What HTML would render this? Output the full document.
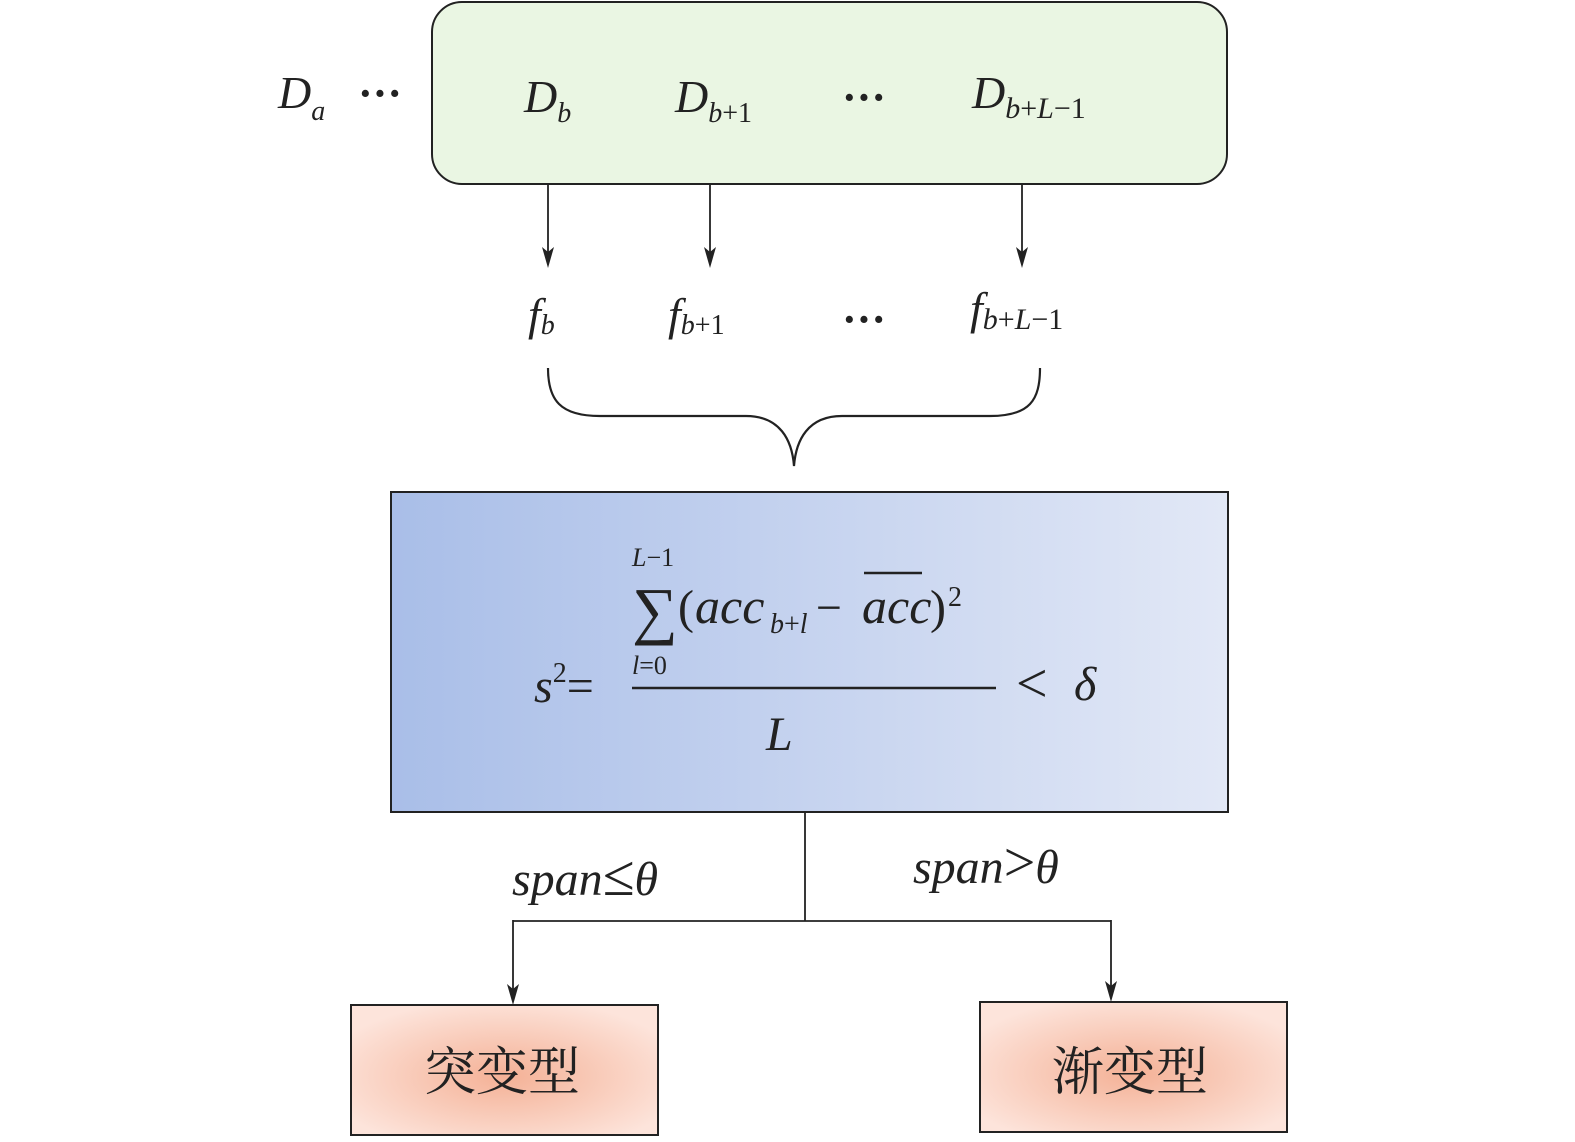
<!DOCTYPE html>
<html><head><meta charset="utf-8"><style>
html,body{margin:0;padding:0;background:#fff;}
svg{display:block;}
.m{font-family:"Liberation Serif",serif;font-style:italic;fill:#222;}
.r{font-family:"Liberation Serif",serif;fill:#222;}
</style></head><body>
<svg width="1575" height="1142" viewBox="0 0 1575 1142" xmlns="http://www.w3.org/2000/svg">
<defs>
<linearGradient id="bl" x1="0" x2="1" y1="0" y2="0">
<stop offset="0" stop-color="#a9bee8"/><stop offset="1" stop-color="#e2e8f6"/>
</linearGradient>
<radialGradient id="pk" cx="0.5" cy="0.55" r="0.6">
<stop offset="0" stop-color="#f4b196"/><stop offset="1" stop-color="#fde4db"/>
</radialGradient>
</defs>
<rect x="432" y="2" width="795" height="182" rx="30" fill="#eaf6e3" stroke="#222" stroke-width="2"/>
<text class="m" x="278" y="108" font-size="46">D<tspan font-size="28" dy="12">a</tspan></text>
<text class="r" x="358" y="108" font-size="44" font-weight="bold">···</text>
<text class="m" x="524" y="112" font-size="46">D<tspan font-size="28" dy="10">b</tspan></text>
<text class="m" x="675" y="112" font-size="46">D<tspan font-size="28" dy="10">b</tspan><tspan class="r" font-style="normal" font-size="28">+1</tspan></text>
<text class="r" x="842" y="112" font-size="44" font-weight="bold">···</text>
<text class="m" x="972" y="108" font-size="46">D<tspan font-size="30" dy="10">b</tspan><tspan font-style="normal" font-size="30">+</tspan><tspan font-size="30">L</tspan><tspan font-style="normal" font-size="30">−1</tspan></text>
<g stroke="#222" stroke-width="1.8" fill="none">
<line x1="548" y1="185" x2="548" y2="255"/>
<line x1="710" y1="185" x2="710" y2="255"/>
<line x1="1022" y1="185" x2="1022" y2="255"/>
<line x1="805" y1="812" x2="805" y2="921"/>
<line x1="513" y1="921" x2="1111" y2="921"/>
<line x1="513" y1="920" x2="513" y2="992"/>
<line x1="1111" y1="920" x2="1111" y2="990"/>
</g>
<g fill="#222">
<path d="M542,247 L548,268 L554,247 L548,252 Z"/>
<path d="M704,247 L710,268 L716,247 L710,252 Z"/>
<path d="M1016,247 L1022,268 L1028,247 L1022,252 Z"/>
<path d="M507,984 L513,1005 L519,984 L513,989 Z"/>
<path d="M1105,981 L1111,1002 L1117,981 L1111,986 Z"/>
</g>
<text class="m" x="528" y="330" font-size="46">f<tspan font-size="28" dy="4">b</tspan></text>
<text class="m" x="668" y="330" font-size="46">f<tspan font-size="28" dy="4">b</tspan><tspan font-style="normal" font-size="28">+1</tspan></text>
<text class="r" x="842" y="334" font-size="44" font-weight="bold">···</text>
<text class="m" x="970" y="324" font-size="46">f<tspan font-size="30" dy="5">b</tspan><tspan font-style="normal" font-size="30">+</tspan><tspan font-size="30">L</tspan><tspan font-style="normal" font-size="30">−1</tspan></text>
<path d="M548,368 C548,400 560,416 600,416 L746,416 C780,416 792,440 794,466 C796,440 808,416 842,416 L990,416 C1030,416 1040,400 1040,368" fill="none" stroke="#222" stroke-width="2.2"/>
<rect x="391" y="492" width="837" height="320" fill="url(#bl)" stroke="#222" stroke-width="2"/>
<text class="m" x="632" y="566" font-size="26">L<tspan font-style="normal">−1</tspan></text>
<text class="r" x="632" y="632" font-size="64">∑</text>
<text class="r" x="678" y="623" font-size="48">(</text>
<text class="m" x="695" y="623" font-size="50">acc</text>
<text class="m" x="770" y="633" font-size="28">b<tspan font-style="normal">+</tspan>l</text>
<text class="r" x="816" y="623" font-size="46">−</text>
<text class="m" x="862" y="623" font-size="50">acc</text>
<text class="r" x="930" y="623" font-size="48">)</text>
<text class="r" x="948" y="606" font-size="28">2</text>
<line x1="864" y1="573" x2="922" y2="573" stroke="#222" stroke-width="2.5"/>
<text class="m" x="632" y="674" font-size="26">l<tspan font-style="normal">=0</tspan></text>
<text class="m" x="534" y="702" font-size="48">s<tspan font-style="normal" font-size="28" dy="-20">2</tspan><tspan font-style="normal" dy="20">=</tspan></text>
<line x1="632" y1="688" x2="996" y2="688" stroke="#222" stroke-width="2.5"/>
<text class="m" x="766" y="750" font-size="48">L</text>
<text class="r" x="1016" y="702" font-size="56">&lt;</text>
<text class="m" x="1074" y="700" font-size="48">δ</text>
<text class="m" x="512" y="895" font-size="48">span<tspan font-style="normal" font-size="58">≤</tspan>θ</text>
<text class="m" x="913" y="883" font-size="48">span<tspan font-style="normal" font-size="56" dy="-2">&gt;</tspan><tspan dy="2">θ</tspan></text>
<rect x="351" y="1005" width="307" height="130" fill="url(#pk)" stroke="#222" stroke-width="2"/>
<rect x="980" y="1002" width="307" height="130" fill="url(#pk)" stroke="#222" stroke-width="2"/>
<text x="502" y="1090" font-size="52" text-anchor="middle" font-family="'Noto Serif CJK SC','Noto Sans CJK SC',serif" fill="#222">突变型</text>
<text x="1130" y="1090" font-size="52" text-anchor="middle" font-family="'Noto Serif CJK SC','Noto Sans CJK SC',serif" fill="#222">渐变型</text>
</svg>
</body></html>
